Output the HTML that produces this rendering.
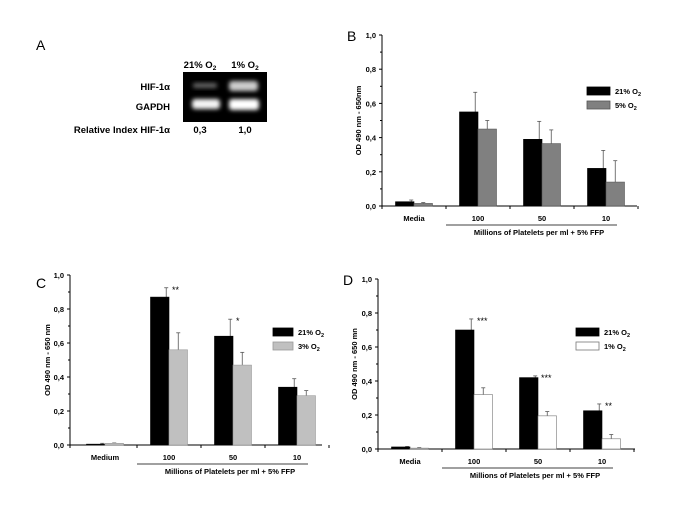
<!DOCTYPE html>
<html><head><meta charset="utf-8"><style>
body{margin:0;background:#fff;}
svg{display:block;font-family:"Liberation Sans",sans-serif;font-weight:bold;}
</style></head><body>
<svg id="fig" width="685" height="513" viewBox="0 0 685 513">
<defs>
<filter id="blur" x="-30%" y="-60%" width="160%" height="220%"><feGaussianBlur stdDeviation="2.2"/></filter>
</defs>
<g>
<text x="36" y="50" font-size="14" font-weight="normal">A</text>
<text x="200" y="68" font-size="9.5" text-anchor="middle">21% O<tspan font-size="6.5" dy="2">2</tspan></text>
<text x="245" y="68" font-size="9.5" text-anchor="middle">1% O<tspan font-size="6.5" dy="2">2</tspan></text>
<text x="170" y="90" font-size="9.5" text-anchor="end">HIF-1α</text>
<text x="170" y="110" font-size="9.5" text-anchor="end">GAPDH</text>
<text x="170" y="133" font-size="9.5" text-anchor="end">Relative Index HIF-1α</text>
<text x="200" y="133" font-size="9.5" text-anchor="middle">0,3</text>
<text x="245" y="133" font-size="9.5" text-anchor="middle">1,0</text>
<rect x="183" y="72" width="84" height="50" fill="#000"/>
<rect x="193" y="83" width="24" height="5" rx="2" fill="#666" filter="url(#blur)"/>
<rect x="229" y="81" width="29" height="10" rx="3" fill="#ccc" filter="url(#blur)"/>
<rect x="192" y="99" width="28" height="10" rx="3" fill="#f4f4f4" filter="url(#blur)"/>
<rect x="229" y="99" width="30" height="11" rx="3" fill="#fff" filter="url(#blur)"/>
</g>
</svg>
<script>
const cats = ["Media","100","50","10"];
const catsC = ["Medium","100","50","10"];
const yTicks = [0,0.2,0.4,0.6,0.8,1.0];
const yTickLabels = ["0,0","0,2","0,4","0,6","0,8","1,0"];
const bBlack = [0.025,0.55,0.39,0.22];
const bBlackErr = [0.01,0.115,0.105,0.105];
const bGray = [0.015,0.45,0.365,0.14];
const bGrayErr = [0.005,0.05,0.08,0.125];
const cBlack = [0.005,0.87,0.64,0.34];
const cBlackErr = [0.005,0.055,0.10,0.05];
const cGray = [0.01,0.56,0.47,0.29];
const cGrayErr = [0.002,0.10,0.075,0.03];
const dBlack = [0.012,0.70,0.42,0.225];
const dBlackErr = [0.003,0.065,0.01,0.04];
const dWhite = [0.005,0.32,0.195,0.06];
const dWhiteErr = [0.003,0.04,0.025,0.025];
const cStars = ["","**","*",""];
const dStars = ["","***","***","**"];

const NS="http://www.w3.org/2000/svg";
const svg=document.getElementById('fig');
function mk(tag,attrs,parent,text){const e=document.createElementNS(NS,tag);for(const k in attrs)e.setAttribute(k,attrs[k]);if(text!==undefined)e.textContent=text;(parent||svg).appendChild(e);return e;}

function panel(o){
  const g=mk('g',{});
  
  
  const y=v=>o.y0-(o.y0-o.y1)*v;
  const cx=i=>o.cx0+o.step*(i+0.5);
  const lab=mk('text',{x:o.lx,y:o.ly,'font-size':14,'font-weight':'normal'},g,o.id.toUpperCase());
  
  
  const ya=mk('line',{x1:o.ax,x2:o.ax,y1:o.y1,y2:o.y0,stroke:'#000','stroke-width':1},g);
  
  
  const xa=mk('line',{x1:o.ax,x2:o.axEnd,y1:o.y0,y2:o.y0,stroke:'#000','stroke-width':1},g);
  
  
  yTicks.forEach((t,i)=>{
    mk('line',{x1:o.ax-3,x2:o.ax,y1:y(t),y2:y(t),stroke:'#000'},g);
    if(i<yTicks.length-1) mk('line',{x1:o.ax-2,x2:o.ax,y1:y(t+0.1),y2:y(t+0.1),stroke:'#000'},g);
    const tl=mk('text',{x:o.ax-6,y:y(t)+3,'font-size':7.5,'text-anchor':'end'},g,yTickLabels[i]);
    
    
  });
  for(let i=0;i<=o.cats.length;i++){
    const xx=o.ax+o.step*i+(i==0?0:o.cx0-o.ax);
    mk('line',{x1:xx,x2:xx,y1:o.y0,y2:o.y0+3,stroke:'#000'},g);
  }
  const yt=mk('text',{x:0,y:0,'font-size':7.5,'text-anchor':'middle',transform:`translate(${o.ytx},${(o.y0+o.y1)/2}) rotate(-90)`},g,o.ytitle);
  
  
  o.cats.forEach((c,i)=>{
    const t=mk('text',{x:cx(i),y:o.y0+15,'font-size':7.5,'text-anchor':'middle'},g,c);
    
    
  });
  const ul=mk('line',{x1:cx(1)-32,x2:cx(3)+11,y1:o.y0+19,y2:o.y0+19,stroke:'#000','stroke-width':0.8},g);
  
  
  const xt=mk('text',{x:(cx(1)+cx(3))/2-3,y:o.y0+29,'font-size':7.5,'text-anchor':'middle'},g,'Millions of Platelets per ml + 5% FFP');
  
  
  const bw=18.5;
  [[o.s1,o.e1,'#000','#000',0],[o.s2,o.e2,o.fill2,o.stroke2,1]].forEach(([vals,errs,fill,st,si])=>{
    vals.forEach((v,i)=>{
      const x=cx(i)-bw+si*bw;
      const top=y(v+errs[i]);
      const ex=x+bw*(si==0?0.85:0.5);
      const el=mk('line',{x1:ex,x2:ex,y1:y(v),y2:top,stroke:'#555','stroke-width':0.8},g);
      
      
      mk('line',{x1:ex-2,x2:ex+2,y1:top,y2:top,stroke:'#555','stroke-width':0.8},g);
      const r=mk('rect',{x:x,y:y(v),width:bw,height:o.y0-y(v),fill:fill,stroke:st,'stroke-width':0.6},g);
      
      
    });
  });
  if(o.stars){o.stars.forEach((s,i)=>{
    if(!s)return;
    const st=mk('text',{x:cx(i)+3,y:y(o.s1[i]+o.e1[i])+5,'font-size':9,'font-weight':'normal'},g,s);
    
    
  });}
  [[o.legY,'#000','#000','21% O'],[o.legY+14,o.fill2,o.stroke2,o.leg2]].forEach(([ly,f,s,t],k)=>{
    const b=mk('rect',{x:o.legX,y:ly,width:o.legW,height:8,fill:f,stroke:s,'stroke-width':0.8},g);
    
    
    const tx=mk('text',{x:o.legX+o.legW+5,y:ly+7,'font-size':7.5},g,t);
    
    
    mk('tspan',{'font-size':5.5,dy:2},tx,'2');
  });
}
panel({id:'b',lx:347,ly:41,ax:382,axEnd:637,y0:206,y1:35,cx0:382,step:64,cats:cats,ytx:361,ytitle:'OD 490 nm - 650nm',
  s1:bBlack,e1:bBlackErr,s2:bGray,e2:bGrayErr,fill2:'#808080',stroke2:'#555',legX:587,legY:87,legW:23,leg2:'5% O'});
panel({id:'c',lx:36,ly:288,ax:70,axEnd:322,y0:445,y1:275,cx0:73,step:64,cats:catsC,ytx:50,ytitle:'OD 490 nm - 650 nm',
  s1:cBlack,e1:cBlackErr,s2:cGray,e2:cGrayErr,fill2:'#c0c0c0',stroke2:'#999',legX:273,legY:328,legW:20,leg2:'3% O',stars:cStars});
panel({id:'d',lx:343,ly:285,ax:378,axEnd:635,y0:449,y1:279,cx0:378,step:64,cats:cats,ytx:357,ytitle:'OD 490 nm - 650 mn',
  s1:dBlack,e1:dBlackErr,s2:dWhite,e2:dWhiteErr,fill2:'#fff',stroke2:'#777',legX:576,legY:328,legW:23,leg2:'1% O',stars:dStars});
</script>
</body></html>
